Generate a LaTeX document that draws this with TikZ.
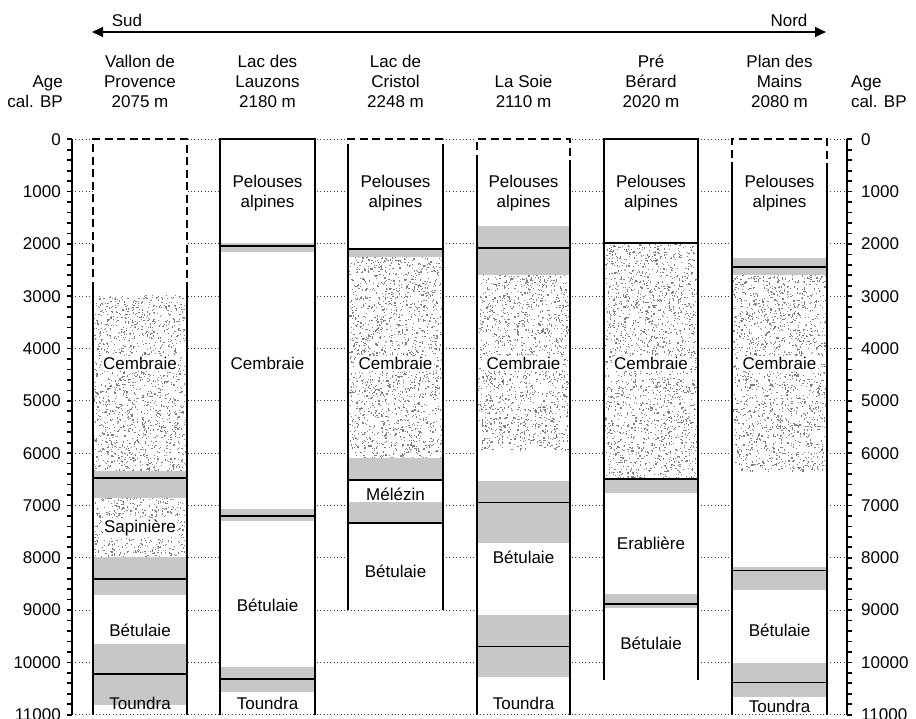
\documentclass[tikz,border=0pt]{standalone}
\usepackage{fontspec}
\setmainfont{Liberation Sans}
\usetikzlibrary{arrows.meta}

% random stipple in a box: x1, age1, x2, age2
\newcommand{\stippbox}[4]{%
  \pgfmathsetmacro{\ndots}{int((#3-#1)/11.5*((#4-#2)*0.0523))}
  \foreach \i in {1,...,\ndots} {
    \pgfmathsetmacro{\x}{#1+1.5+rnd*(#3-#1-3)}
    \pgfmathsetmacro{\y}{#2+rnd*(#4-#2)}
    \fill[black!50] (\x,\y) ++(-0.6pt,-0.6pt) rectangle ++(1.2pt,1.2pt);
  }
}

\begin{document}
\begin{tikzpicture}[x=1pt, y=-1pt,
    txt/.style={font=\fontsize{17}{20}\selectfont, inner sep=0pt},
    site/.style={txt, align=center, anchor=south},
    veg/.style={txt, align=center, inner sep=1.5pt},
    vegw/.style={veg, fill=white},
    gridline/.style={black!75, line width=0.9pt, dash pattern=on 0.9pt off 2.5pt},
    side/.style={line width=1.7pt},
    topdash/.style={line width=1.7pt, dash pattern=on 8pt off 4.5pt},
    divide/.style={line width=1.8pt},
    band/.style={fill=black!22},
    axis/.style={line width=1.7pt}]
    \useasboundingbox (0,0) rectangle (916,718);
    \pgfmathsetseed{7}

    % Sud - Nord arrow
    \coordinate (sud) at (92,32);
    \coordinate (nord) at (826,32);
    \draw[{Triangle[length=11pt,width=10pt]}-{Triangle[length=11pt,width=10pt]}, line width=1.1pt] (sud) -- (nord);
    \node[txt] (sudlbl) at (127,20) {Sud};
    \node[txt] (nordlbl) at (789,20) {Nord};

    % site headers
    \node[site, align=right, anchor=south east] (agehead) at (63,108) {Age\\cal. BP};
    \node[site] (vallon) at (140,108) {Vallon de\\Provence\\2075 m};
    \node[site] (lauzons) at (267.5,108) {Lac des\\Lauzons\\2180 m};
    \node[site] (cristol) at (395.5,108) {Lac de\\Cristol\\2248 m};
    \node[site] (soie) at (523.5,108) {La Soie\\2110 m};
    \node[site] (berard) at (651,108) {Pr\'e\\B\'erard\\2020 m};
    \node[site] (mains) at (779.5,108) {Plan des\\Mains\\2080 m};
    \node[site, align=left, anchor=south west] (ageheadr) at (851,108) {Age\\cal. BP};

    \begin{scope}[yshift=-139.3pt, y=-0.0523pt]
        % dotted age lines
        \foreach \a in {0,1000,...,10000} \draw[gridline] (72,\a) -- (847,\a);
        % white columns
        \foreach \xl/\ab in {93/11000,220/11000,348/9000,477/11000,604/10333,732/11000}
            \fill[white] (\xl,0) rectangle (\xl+94,\ab);

        % Vallon de Provence
        \stippbox{93}{2980}{187}{6350}
        \stippbox{93}{6850}{187}{7980}
        \fill[band] (93,6350) rectangle (187,6850);
        \fill[band] (93,7980) rectangle (187,8710);
        \fill[band] (93,9650) rectangle (187,10810);
        \draw[divide] (93,6480) -- (187,6480);
        \draw[divide] (93,8410) -- (187,8410);
        \draw[divide] (93,10225) -- (187,10225);
        \node[vegw] (vpcemb) at (140,4290) {Cembraie};
        \node[vegw] (vpsap) at (140,7430) {Sapini\`ere};
        \node[veg] (vpbet) at (140,9380) {B\'etulaie};
        \node[veg] (vptou) at (140,10790) {Toundra};
        \draw[topdash] (93,2880) -- (93,0) -- (187,0) -- (187,2880);
        \draw[side] (93,2880) -- (93,11000) (187,2880) -- (187,11000);

        % Lac des Lauzons
        \fill[band] (220,1980) rectangle (315,2150);
        \fill[band] (220,7070) rectangle (315,7300);
        \fill[band] (220,10090) rectangle (315,10560);
        \draw[divide] (220,2045) -- (315,2045);
        \draw[divide] (220,7200) -- (315,7200);
        \draw[divide] (220,10315) -- (315,10315);
        \node[veg] (llpel) at (267.5,1023) {Pelouses\\alpines};
        \node[veg] (llcemb) at (267.5,4290) {Cembraie};
        \node[veg] (llbet) at (267.5,8900) {B\'etulaie};
        \node[veg] (lltou) at (267.5,10790) {Toundra};
        \draw[side] (220,11000) -- (220,0) -- (315,0) -- (315,11000);

        % Lac de Cristol
        \stippbox{348}{2250}{443}{6090}
        \fill[band] (348,2100) rectangle (443,2250);
        \fill[band] (348,6090) rectangle (443,6510);
        \fill[band] (348,6925) rectangle (443,7340);
        \draw[divide] (348,2100) -- (443,2100);
        \draw[divide] (348,6510) -- (443,6510);
        \draw[divide] (348,7340) -- (443,7340);
        \node[veg] (lcpel) at (395.5,1023) {Pelouses\\alpines};
        \node[vegw] (lccemb) at (395.5,4290) {Cembraie};
        \node[veg] (lcmel) at (395.5,6790) {M\'el\'ezin};
        \node[veg] (lcbet) at (395.5,8260) {B\'etulaie};
        \draw[topdash] (348,250) -- (348,0) -- (443,0) -- (443,250);
        \draw[side] (348,250) -- (348,9000) (443,250) -- (443,9000);

        % La Soie
        \stippbox{477}{2600}{570}{5940}
        \fill[band] (477,1660) rectangle (570,2600);
        \fill[band] (477,6525) rectangle (570,7720);
        \fill[band] (477,9090) rectangle (570,10270);
        \draw[divide] (477,2075) -- (570,2075);
        \draw[divide] (477,6945) -- (570,6945);
        \draw[divide] (477,9695) -- (570,9695);
        \node[veg] (lspel) at (523.5,1023) {Pelouses\\alpines};
        \node[vegw] (lscemb) at (523.5,4290) {Cembraie};
        \node[veg] (lsbet) at (523.5,7990) {B\'etulaie};
        \node[veg] (lstou) at (523.5,10790) {Toundra};
        \draw[topdash] (477,450) -- (477,0) -- (570,0) -- (570,450);
        \draw[side] (477,450) -- (477,11000) (570,450) -- (570,11000);

        % Pre Berard
        \stippbox{604}{1990}{698}{6500}
        \fill[band] (604,6500) rectangle (698,6760);
        \fill[band] (604,8690) rectangle (698,8960);
        \draw[divide] (604,1980) -- (698,1980);
        \draw[divide] (604,6500) -- (698,6500);
        \draw[divide] (604,8885) -- (698,8885);
        \node[veg] (pbpel) at (651,1023) {Pelouses\\alpines};
        \node[vegw] (pbcemb) at (651,4290) {Cembraie};
        \node[veg] (pberab) at (651,7720) {Erabli\`ere};
        \node[veg] (pbbet) at (651,9645) {B\'etulaie};
        \draw[side] (604,10333) -- (604,0) -- (698,0) -- (698,10333);

        % Plan des Mains
        \stippbox{732}{2600}{827}{6350}
        \fill[band] (732,2265) rectangle (827,2600);
        \fill[band] (732,8170) rectangle (827,8615);
        \fill[band] (732,10015) rectangle (827,10665);
        \draw[divide] (732,2445) -- (827,2445);
        \draw[divide] (732,8245) -- (827,8245);
        \draw[divide] (732,10385) -- (827,10385);
        \node[veg] (pmpel) at (779.5,1023) {Pelouses\\alpines};
        \node[vegw] (pmcemb) at (779.5,4290) {Cembraie};
        \node[veg] (pmbet) at (779.5,9390) {B\'etulaie};
        \node[veg] (pmtou) at (779.5,10850) {Toundra};
        \draw[topdash] (732,590) -- (732,0) -- (827,0) -- (827,590);
        \draw[side] (732,590) -- (732,11000) (827,590) -- (827,11000);

        % bottom line
        \draw[gridline] (72,11000) -- (847,11000);

        % Axes
        \draw[axis] (72,0) -- (72,11000);
        \draw[axis] (847,0) -- (847,11000);
        \foreach \a in {0,200,...,11000} {
            \draw[axis] (72,\a) -- (67,\a);
            \draw[axis] (847,\a) -- (852,\a);
        }
        \foreach \a in {0,1000,...,11000} {
            \node[txt, anchor=east] (agel\a) at (61,\a) {\a};
            \node[txt, anchor=west] (ager\a) at (861,\a) {\a};
        }
    \end{scope}
\end{tikzpicture}
\end{document}
